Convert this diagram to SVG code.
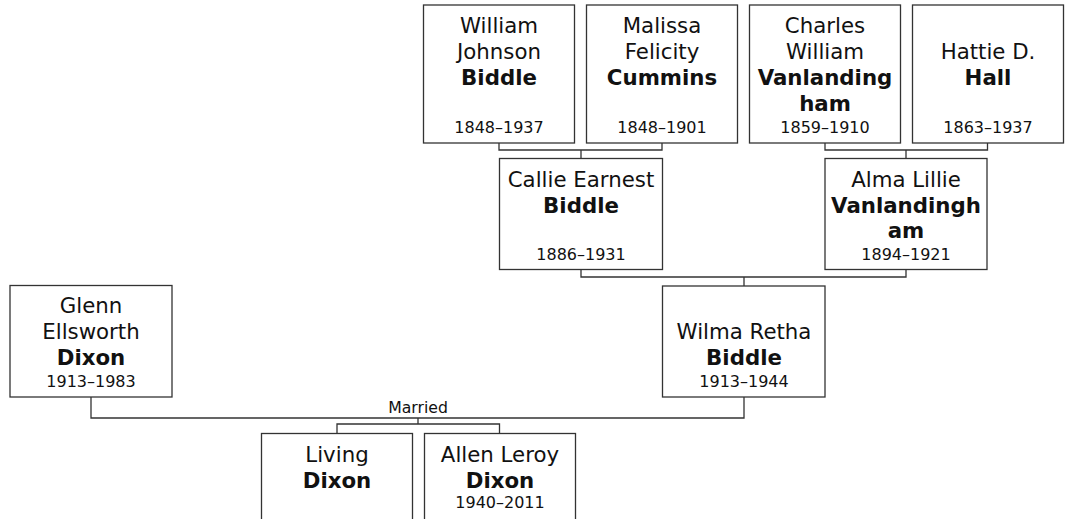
<svg xmlns="http://www.w3.org/2000/svg" width="1066" height="519" viewBox="0 0 1066 519">
<style>
.box{fill:#fff;stroke:#333;stroke-width:1.3}
.ln{fill:none;stroke:#333;stroke-width:1.3}
text{font-family:"DejaVu Sans",Verdana,sans-serif;fill:#111;text-anchor:middle}
.n{font-size:21.3px}
.b{font-size:21.3px;font-weight:bold}
.d{font-size:16px}
.m{font-size:15.7px}
</style>
<rect width="1066" height="519" fill="#fff"/>
<g id="connectors">
<path class="ln" d="M499,143 V150 H662 V143 M581,150 V158"/>
<path class="ln" d="M825,143 V150 H987.5 V143 M906,150 V158"/>
<path class="ln" d="M581,269.5 V277 H906 V270 M744,277 V286"/>
<path class="ln" d="M91,397 V418 H744 V397 M418,418 V424 M337,433.5 V424 H499.5 V433.5"/>
<text class="m" x="418" y="413">Married</text>
</g>
<g id="william">
<rect class="box" x="423.5" y="5" width="151" height="138"/>
<text class="n" x="499" y="33.3">William</text>
<text class="n" x="499" y="59.3">Johnson</text>
<text class="b" x="499" y="85.3">Biddle</text>
<text class="d" x="499" y="133.3">1848–1937</text>
</g>
<g id="malissa">
<rect class="box" x="586.5" y="5" width="151" height="138"/>
<text class="n" x="662" y="33.3">Malissa</text>
<text class="n" x="662" y="59.3">Felicity</text>
<text class="b" x="662" y="85.3">Cummins</text>
<text class="d" x="662" y="133.3">1848–1901</text>
</g>
<g id="charles">
<rect class="box" x="749.5" y="5" width="151" height="138"/>
<text class="n" x="825" y="33.3">Charles</text>
<text class="n" x="825" y="59.3">William</text>
<text class="b" x="825" y="85.3">Vanlanding</text>
<text class="b" x="825" y="110.5">ham</text>
<text class="d" x="825" y="133.3">1859–1910</text>
</g>
<g id="hattie">
<rect class="box" x="912.5" y="5" width="151" height="138"/>
<text class="n" x="988" y="59.3">Hattie D.</text>
<text class="b" x="988" y="85.3">Hall</text>
<text class="d" x="988" y="133.3">1863–1937</text>
</g>
<g id="callie">
<rect class="box" x="499.5" y="158.5" width="163" height="111"/>
<text class="n" x="581" y="186.5">Callie Earnest</text>
<text class="b" x="581" y="212.5">Biddle</text>
<text class="d" x="581" y="259.5">1886–1931</text>
</g>
<g id="alma">
<rect class="box" x="825" y="158.5" width="162" height="111"/>
<text class="n" x="906" y="186.5">Alma Lillie</text>
<text class="b" x="906" y="212.5">Vanlandingh</text>
<text class="b" x="906" y="237.5">am</text>
<text class="d" x="906" y="259.5">1894–1921</text>
</g>
<g id="wilma">
<rect class="box" x="662.5" y="286" width="162.5" height="111"/>
<text class="n" x="744" y="339.3">Wilma Retha</text>
<text class="b" x="744" y="365">Biddle</text>
<text class="d" x="744" y="387">1913–1944</text>
</g>
<g id="glenn">
<rect class="box" x="10" y="285.5" width="162" height="111.5"/>
<text class="n" x="91" y="313.3">Glenn</text>
<text class="n" x="91" y="339">Ellsworth</text>
<text class="b" x="91" y="365">Dixon</text>
<text class="d" x="91" y="387">1913–1983</text>
</g>
<g id="living">
<rect class="box" x="261.5" y="433.5" width="151" height="111"/>
<text class="n" x="337" y="461.7">Living</text>
<text class="b" x="337" y="487.7">Dixon</text>
</g>
<g id="allen">
<rect class="box" x="424.5" y="433.5" width="151" height="111"/>
<text class="n" x="500" y="461.7">Allen Leroy</text>
<text class="b" x="500" y="487.7">Dixon</text>
<text class="d" x="500" y="507.7">1940–2011</text>
</g>
</svg>
